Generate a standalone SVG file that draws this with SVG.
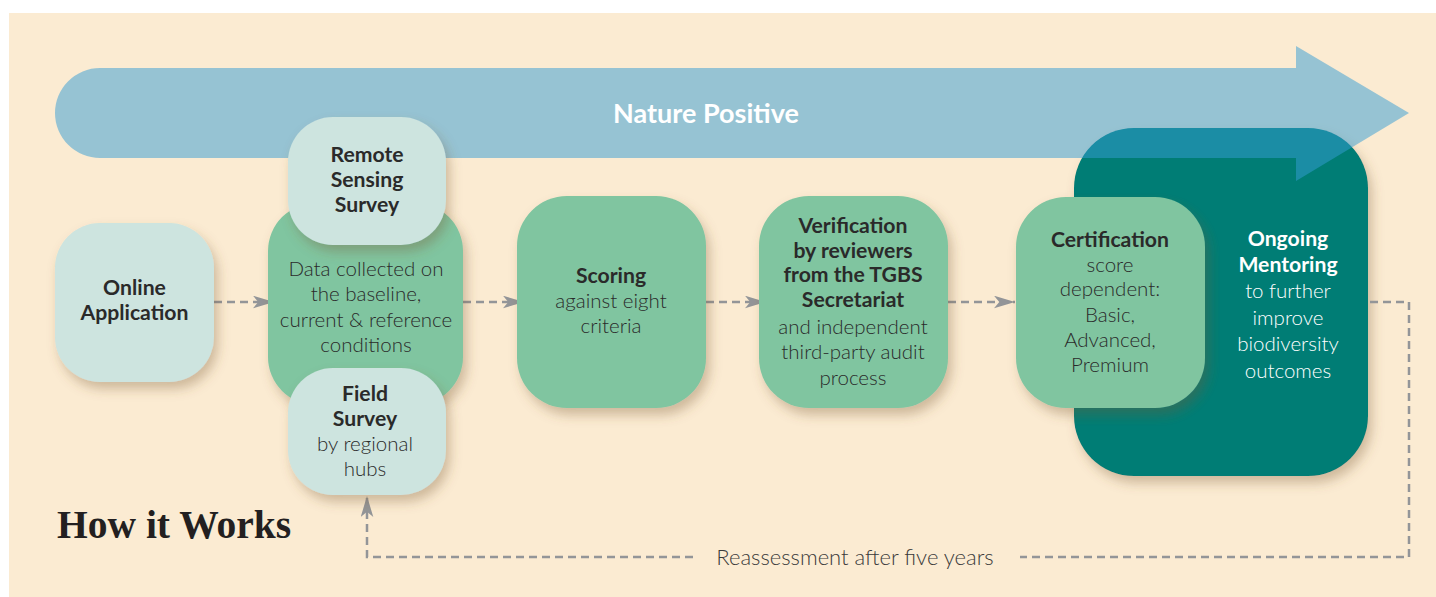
<svg xmlns="http://www.w3.org/2000/svg" width="1436" height="597" viewBox="0 0 1436 597">
  <style>
    .t { font-family: Lato, "Open Sans", "Liberation Sans", sans-serif; font-size: 20.5px; fill: #2a2a2a; text-anchor: middle; }
    .b { font-weight: 700; font-size: 21.2px; }
    .w { fill: #ffffff; }
    .light { font-weight: 300; }
    .dash { fill: none; stroke: #939598; stroke-width: 2.5; stroke-dasharray: 8 5; }
    .pale { fill: #cde4df; }
    .green { fill: #80c5a0; }
  </style>
  <defs>
    <filter id="shadow" x="-20%" y="-20%" width="150%" height="150%">
      <feDropShadow dx="4" dy="7" stdDeviation="6" flood-color="#7a5a30" flood-opacity="0.35"/>
    </filter>
    <marker id="head" viewBox="0 0 20 12" markerWidth="21" markerHeight="13" refX="20" refY="6" orient="auto" markerUnits="userSpaceOnUse">
      <path d="M0,0 L20,6 L0,12 L5,6 Z" fill="#939598"/>
    </marker>
  </defs>

  <!-- page background -->
  <rect x="0" y="0" width="1436" height="597" fill="#ffffff"/>
  <rect x="9" y="13" width="1427" height="584" fill="#fbebd2"/>

  <!-- mentoring panel sits under the big arrow -->
  <g id="node-mentoring">
    <rect x="1074" y="128" width="294" height="348" rx="60" fill="#007d75" filter="url(#shadow)"/>
  </g>

  <!-- Nature Positive arrow -->
  <g id="nature-positive">
    <path d="M100,68 H1296 V46 L1409,113 L1296,181 V158 H100 A45,45 0 0 1 100,68 Z" fill="#359cd4" fill-opacity="0.51"/>
    <text class="t b w" x="706" y="122.5" style="font-size:27px">Nature Positive</text>
  </g>

  <!-- connectors -->
  <g id="connectors">
    <line class="dash" x1="214" y1="302" x2="274" y2="302" marker-end="url(#head)"/>
    <line class="dash" x1="463" y1="302" x2="524" y2="302" marker-end="url(#head)"/>
    <line class="dash" x1="706" y1="302" x2="766" y2="302" marker-end="url(#head)"/>
    <line class="dash" x1="948" y1="302" x2="1015" y2="302" marker-end="url(#head)"/>
    <polyline class="dash" points="1370,302 1409,302 1409,557 1020,557"/>
    <polyline class="dash" points="693,557 367,557 367,496" marker-end="url(#head)"/>
    <text class="t light" x="855" y="564.5" style="font-size:22px;fill:#3a3a3a">Reassessment after five years</text>
  </g>

  <g id="node-online">
    <rect class="pale" x="55" y="223" width="159" height="159" rx="45" filter="url(#shadow)"/>
    <text class="t b" x="134.5" y="294.5">Online</text>
    <text class="t b" x="134.5" y="319.5">Application</text>
  </g>

  <g id="node-data">
    <rect class="green" x="268" y="203" width="195" height="202" rx="48" filter="url(#shadow)"/>
    <text class="t light" x="366" y="276">Data collected on</text>
    <text class="t light" x="366" y="301">the baseline,</text>
    <text class="t light" x="366" y="327">current &amp; reference</text>
    <text class="t light" x="366" y="352">conditions</text>
  </g>

  <g id="node-remote">
    <rect class="pale" x="288" y="117" width="158" height="128" rx="45" filter="url(#shadow)"/>
    <text class="t b" x="367" y="161.5">Remote</text>
    <text class="t b" x="367" y="186.5">Sensing</text>
    <text class="t b" x="367" y="211.5">Survey</text>
  </g>

  <g id="node-field">
    <rect class="pale" x="288" y="368" width="158" height="127" rx="45" filter="url(#shadow)"/>
    <text class="t b" x="365" y="400.5">Field</text>
    <text class="t b" x="365" y="425.5">Survey</text>
    <text class="t light" x="365" y="451">by regional</text>
    <text class="t light" x="365" y="476">hubs</text>
  </g>

  <g id="node-scoring">
    <rect class="green" x="517" y="196" width="189" height="212" rx="50" filter="url(#shadow)"/>
    <text class="t b" x="611" y="282.5">Scoring</text>
    <text class="t light" x="611" y="308">against eight</text>
    <text class="t light" x="611" y="333">criteria</text>
  </g>

  <g id="node-verification">
    <rect class="green" x="759" y="196" width="189" height="212" rx="50" filter="url(#shadow)"/>
    <text class="t b" x="853" y="232.5">Verification</text>
    <text class="t b" x="853" y="257.5">by reviewers</text>
    <text class="t b" x="853" y="281.5">from the TGBS</text>
    <text class="t b" x="853" y="306.5">Secretariat</text>
    <text class="t light" x="853" y="334">and independent</text>
    <text class="t light" x="853" y="359">third-party audit</text>
    <text class="t light" x="853" y="385">process</text>
  </g>

  <g id="node-mentoring-text">
    <text class="t b w" x="1288" y="245.5">Ongoing</text>
    <text class="t b w" x="1288" y="271.5">Mentoring</text>
    <text class="t light w" x="1288" y="298">to further</text>
    <text class="t light w" x="1288" y="325">improve</text>
    <text class="t light w" x="1288" y="351">biodiversity</text>
    <text class="t light w" x="1288" y="378">outcomes</text>
  </g>

  <g id="node-certification">
    <rect class="green" x="1016" y="197" width="189" height="211" rx="50" filter="url(#shadow)"/>
    <text class="t b" x="1110" y="246.5">Certification</text>
    <text class="t light" x="1110" y="272">score</text>
    <text class="t light" x="1110" y="296">dependent:</text>
    <text class="t light" x="1110" y="322">Basic,</text>
    <text class="t light" x="1110" y="347">Advanced,</text>
    <text class="t light" x="1110" y="372">Premium</text>
  </g>

  <!-- heading -->
  <text id="title" x="57" y="538" style="font-family:'Liberation Serif','DejaVu Serif',serif;font-weight:700;font-size:39.5px;fill:#231f20">How it Works</text>
</svg>
